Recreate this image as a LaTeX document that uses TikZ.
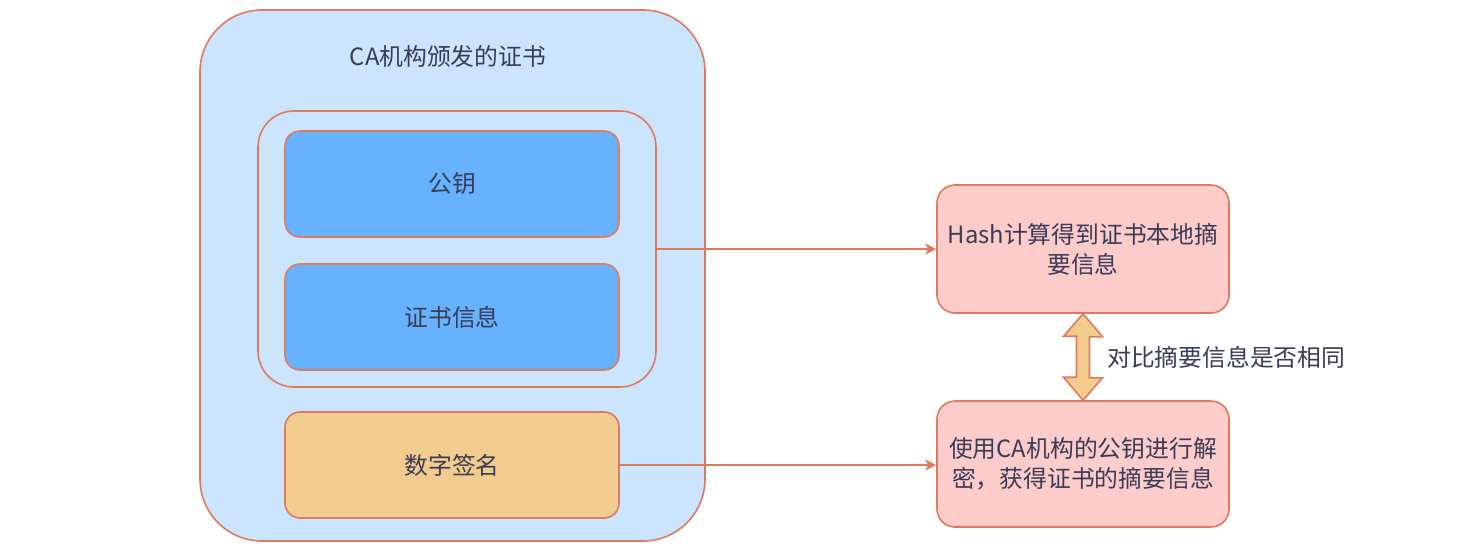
\documentclass[tikz,border=0pt]{standalone}
\usepackage{fontspec}
\setmainfont{Noto Sans CJK SC}
\usetikzlibrary{arrows.meta}
\definecolor{strk}{HTML}{E07A5F}
\definecolor{txt}{HTML}{393C56}
\definecolor{outerfill}{HTML}{CCE5FF}
\definecolor{bluefill}{HTML}{66B2FF}
\definecolor{orangefill}{HTML}{F2CC8F}
\definecolor{pinkfill}{HTML}{FFCCCC}
\tikzset{
  lbl/.style={text=txt, font=\fontsize{23.8}{30}\selectfont},
  box/.style={draw=strk, line width=1.6pt, lbl, align=center, inner sep=0pt},
  conn/.style={draw=strk, line width=1.6pt, -{Stealth[length=11pt,width=11pt,inset=3pt]}},
}
\begin{document}
\begin{tikzpicture}[x=1pt,y=-1pt]
\useasboundingbox (0,0) rectangle (1471,555);
% outer
\node[box, fill=outerfill, rounded corners=62pt, minimum width=505pt, minimum height=531pt] (outer) at (452.5,275.5) {};
\node[lbl, inner sep=0pt] (title) at (448,56) {CA机构颁发的证书};
% inner group
\node[box, fill=outerfill, rounded corners=36pt, minimum width=398pt, minimum height=276pt] (group) at (457,249) {};
\node[box, fill=bluefill, rounded corners=15pt, minimum width=334pt, minimum height=106pt] (pk) at (452,184) {公钥};
\node[box, fill=bluefill, rounded corners=15pt, minimum width=334pt, minimum height=106pt] (info) at (452,317) {证书信息};
\node[box, fill=orangefill, rounded corners=15pt, minimum width=334pt, minimum height=106pt] (sig) at (452,465) {数字签名};
% right boxes
\node[box, fill=pinkfill, rounded corners=18pt, minimum width=292pt, minimum height=128pt] (hash) at (1083,249) {Hash计算得到证书本地摘\\要信息};
\node[box, fill=pinkfill, rounded corners=18pt, minimum width=292pt, minimum height=126pt] (dec) at (1083,464) {使用CA机构的公钥进行解\\密，获得证书的摘要信息};
% connectors
\draw[conn] (group.east) -- (hash.west);
\draw[conn] (sig.east) -- (dec.west |- sig.east);
% double arrow
\coordinate (tt) at (hash.south);
\coordinate (bt) at (dec.north);
\draw[draw=strk, fill=orangefill, line width=1.6pt, line join=miter]
  (tt) -- ++(19.5,23) -- ++(-13,0) -- ++(0,41) -- ++(13,0) -- (bt)
  -- ++(-19.5,-23) -- ++(13,0) -- ++(0,-41) -- ++(-13,0) -- cycle;
\node[lbl, anchor=west, inner sep=0pt] (cmp) at (1107,357) {对比摘要信息是否相同};
\end{tikzpicture}
\end{document}
